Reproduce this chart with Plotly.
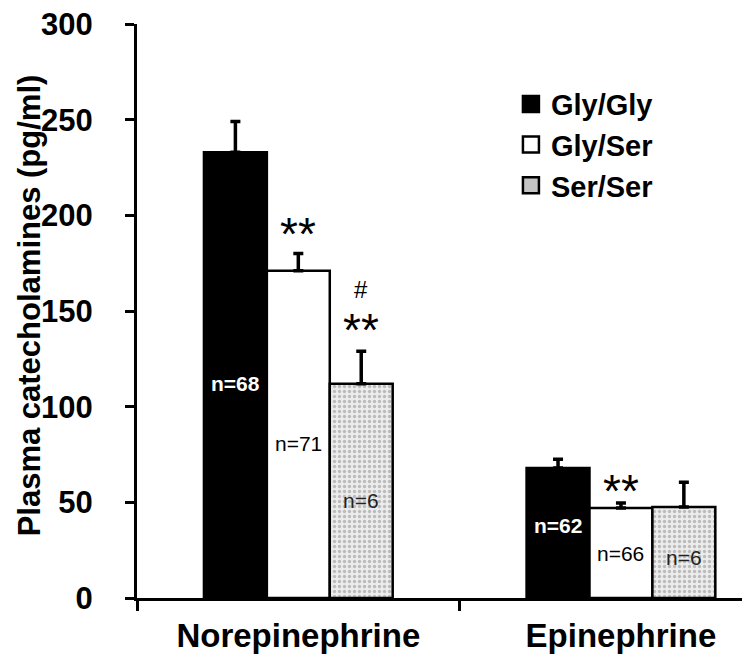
import plotly.graph_objects as go

# ---- data ----
categories = ["Norepinephrine", "Epinephrine"]
genotypes = ["Gly/Gly", "Gly/Ser", "Ser/Ser"]

gly_gly = [233, 68]
gly_gly_err = [16, 4.5]
gly_ser = [171, 47]
gly_ser_err = [9, 2.6]
ser_ser = [112, 47.5]
ser_ser_err = [17, 13]

n_gly_gly = [68, 62]
n_gly_ser = [71, 66]
n_ser_ser = [6, 6]

y_title = "Plasma catecholamines (pg/ml)"

# significance marks: (category index, genotype index, text)
sig_marks = [(0, 1, "**"), (0, 2, "**"), (0, 2, "#"), (1, 1, "**")]

FONT = "Arial, Liberation Sans, sans-serif"

fig = go.Figure()

series = [
    (genotypes[0], gly_gly, gly_gly_err, dict(color="black"), "black"),
    (genotypes[1], gly_ser, gly_ser_err, dict(color="white"), "white"),
    (genotypes[2], ser_ser, ser_ser_err,
     dict(color="#ececec",
          pattern=dict(shape=".", fgcolor="#8a8a8a", bgcolor="#ececec",
                       size=5, solidity=0.35)), "#c4c4c4"),
]

for name, vals, errs, mk, legcol in series:
    marker = dict(mk)
    marker["line"] = dict(color="black", width=2.5)
    fig.add_trace(go.Bar(
        name=name, x=categories, y=vals,
        marker=marker, showlegend=False,
        error_y=dict(type="data", array=errs, arrayminus=[0] * len(errs),
                     symmetric=False, color="black", thickness=3.5, width=5),
    ))
    # legend-only entry with a larger square symbol
    fig.add_trace(go.Scatter(
        name=name, x=[None], y=[None], mode="markers",
        marker=dict(symbol="square", size=17, color=legcol,
                    line=dict(color="black", width=2.5)),
    ))

# bar layout geometry
BARGAP = 0.415
bar_w = (1 - BARGAP) / 3
offsets = [-bar_w, 0, bar_w]

# n labels
n_sets = [n_gly_gly, n_gly_ser, n_ser_ser]
n_label_y = [[112, 38], [81, 23], [51, 21]]
n_label_style = [
    dict(color="white", bold=True),
    dict(color="black", bold=False),
    dict(color="#222222", bold=False),
]
for g, ns in enumerate(n_sets):
    for c, n in enumerate(ns):
        txt = f"n={n}"
        if n_label_style[g]["bold"]:
            txt = f"<b>{txt}</b>"
        fig.add_annotation(x=c + offsets[g], y=n_label_y[g][c], text=txt,
                           showarrow=False, xref="x", yref="y",
                           font=dict(family=FONT, size=21,
                                     color=n_label_style[g]["color"]))

# significance marks
sig_y = {(0, 1, "**"): 190, (0, 2, "**"): 140, (0, 2, "#"): 161.5, (1, 1, "**"): 56}
for c, g, t in sig_marks:
    fig.add_annotation(x=c + offsets[g], y=sig_y[(c, g, t)], text=t,
                       showarrow=False, xref="x", yref="y",
                       font=dict(family=FONT, size=46 if t == "**" else 24,
                                 color="black"))

# y-axis title as a rotated annotation
fig.add_annotation(x=-0.176, y=0.51, xref="paper", yref="paper",
                   text=f"<b>{y_title}</b>", textangle=-90, showarrow=False,
                   xanchor="center", yanchor="middle",
                   font=dict(family=FONT, size=31, color="black"))

fig.update_layout(
    width=742, height=659,
    margin=dict(l=129, r=0, t=16, b=69),
    paper_bgcolor="white", plot_bgcolor="white",
    barmode="group", bargap=BARGAP, bargroupgap=0,
    font=dict(family=FONT, color="black"),
    legend=dict(x=0.61, y=0.905, xanchor="left", yanchor="top",
                font=dict(family=FONT, size=29, color="black", weight="bold"),
                bgcolor="rgba(0,0,0,0)", itemwidth=30, tracegroupgap=0),
    showlegend=True,
)

fig.update_xaxes(
    type="category", range=[-0.5, 1.4], automargin=False,
    showline=True, linecolor="black", linewidth=3,
    ticks="outside", tickson="boundaries", ticklen=10, tickwidth=3,
    tickcolor="black", showgrid=False, zeroline=False,
    tickfont=dict(family=FONT, size=33, color="black", weight="bold"),
    ticklabelstandoff=6,
)

fig.update_yaxes(
    range=[0, 300], tickvals=[0, 50, 100, 150, 200, 250, 300],
    automargin=False, ticklabeloverflow="allow",
    showline=True, linecolor="black", linewidth=3,
    ticks="outside", ticklen=9, tickwidth=3, tickcolor="black",
    showgrid=False, zeroline=False,
    tickfont=dict(family=FONT, size=31, color="black", weight="bold"),
    ticklabelstandoff=26,
)

fig.write_html("out.html")
